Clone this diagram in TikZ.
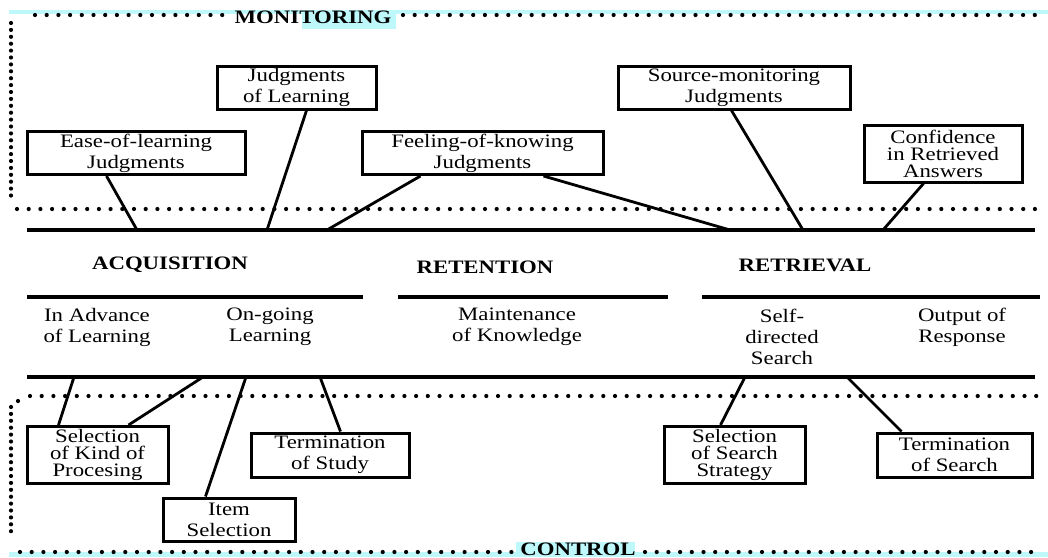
\documentclass[tikz,border=0pt]{standalone}
\usepackage{fontspec}
\setmainfont[FakeStretch=1.2]{Liberation Serif}
\usetikzlibrary{calc}
\definecolor{hl}{RGB}{190,248,250}
\begin{document}
\begin{tikzpicture}[x=1pt,y=-1pt,
  box/.style={draw, line width=3pt, inner sep=0pt, align=center, font=\fontsize{19}{21}\selectfont},
  tbox/.style={box, font=\fontsize{19}{17}\selectfont},
  lbl/.style={inner sep=0pt, align=center, font=\fontsize{19}{21}\selectfont},
  head/.style={inner sep=0pt, font=\fontsize{19}{21}\selectfont\bfseries},
  mainline/.style={line width=3.2pt},
  conn/.style={line width=2.8pt},
  dots/.style={line width=4.2pt, line cap=round, dash pattern=on 0pt off 11.7pt},
  vdots/.style={line width=4.2pt, line cap=round, dash pattern=on 0pt off 6.9pt}]
\useasboundingbox (0,0) rectangle (1048,557);
% highlight artifacts
\fill[hl] (9,10) rectangle (1048,13.5);
\fill[hl] (302,12) rectangle (396,29);
\fill[hl] (9,552) rectangle (1048,557);
\fill[hl] (516,542) rectangle (635,557);
% monitoring dotted frame
\node[head] (mon) at (313,17) {MONITORING};
\draw[dots] (35,15) -- (228,15);
\draw[dots] (403,15) -- (1042,15);
\draw[vdots] (11,23) -- (11,202);
\draw[dots] (17,209) -- (1042,209);
% control dotted frame
\node[head] (con) at (578,549) {CONTROL};
\draw[dots] (30,396) -- (1042,396);
\draw[vdots] (11,407) -- (11,535);
\draw[dots] (18,401) -- (18,401.1);
\draw[dots] (20,552) -- (512,552);
\draw[dots] (645,552) -- (1042,552);
% main lines
\coordinate (tl) at (27,230);
\coordinate (tr) at (1035,230);
\draw[mainline] (tl) -- (tr);
\coordinate (bl) at (27,377);
\coordinate (br) at (1035,377);
\draw[mainline] (bl) -- (br);
\coordinate (m1a) at (27,297); \coordinate (m1b) at (363,297);
\coordinate (m2a) at (398,297); \coordinate (m2b) at (668,297);
\coordinate (m3a) at (702,297); \coordinate (m3b) at (1040,297);
\draw[mainline] (m1a) -- (m1b);
\draw[mainline] (m2a) -- (m2b);
\draw[mainline] (m3a) -- (m3b);
% headings and labels
\node[head] (acq) at (170,265) {ACQUISITION};
\node[head] (ret) at (485,267) {RETENTION};
\node[head] (rtr) at (805,265) {RETRIEVAL};
\node[lbl] (adv) at (97,327) {In Advance\\of Learning};
\node[lbl] (ong) at (270,327) {On-going\\Learning};
\node[lbl] (mnt) at (517,327) {Maintenance\\of Knowledge};
\node[lbl] (sds) at (782,337) {Self-\\directed\\Search};
\node[lbl] (oor) at (962,327) {Output of\\Response};
% monitoring boxes
\node[box, minimum width=218, minimum height=43] (elj) at (136,153) {Ease-of-learning\\Judgments};
\node[box, minimum width=159, minimum height=43] (jol) at (296.5,87.5) {Judgments\\of Learning};
\node[box, minimum width=241, minimum height=43] (fok) at (482.5,153) {Feeling-of-knowing\\Judgments};
\node[box, minimum width=232, minimum height=43] (smj) at (734,87.5) {Source-monitoring\\Judgments};
\node[tbox, minimum width=158, minimum height=57] (cra) at (943,153.5) {Confidence\\in Retrieved\\Answers};
% control boxes
\node[tbox, minimum width=141, minimum height=57] (skp) at (97.5,455) {Selection\\of Kind of\\Procesing};
\node[box, minimum width=132, minimum height=43] (its) at (229,519.5) {Item\\Selection};
\node[box, minimum width=158, minimum height=44] (tst) at (330,455) {Termination\\of Study};
\node[tbox, minimum width=141, minimum height=57] (sss) at (734.5,455) {Selection\\of Search\\Strategy};
\node[box, minimum width=155, minimum height=44] (tse) at (954.5,455) {Termination\\of Search};
% attachment points on main lines
\coordinate (t1) at (137,230); \coordinate (t2) at (267,230);
\coordinate (t3) at (327,230); \coordinate (t4) at (730,230);
\coordinate (t5) at (803,230); \coordinate (t6) at (883,230);
\coordinate (b1) at (74,377); \coordinate (b2) at (203,377);
\coordinate (b3) at (246,377); \coordinate (b4) at (320,377);
\coordinate (b5) at (745,377); \coordinate (b6) at (847,377);
% connectors
\draw[conn] ($(elj.south west)+(81,0)$) -- (t1);
\draw[conn] ($(jol.south west)+(91,0)$) -- (t2);
\draw[conn] ($(fok.south west)+(60,0)$) -- (t3);
\draw[conn] ($(fok.south west)+(183,0)$) -- (t4);
\draw[conn] ($(smj.south west)+(115,0)$) -- (t5);
\draw[conn] ($(cra.south west)+(61,0)$) -- (t6);
\draw[conn] ($(skp.north west)+(33,0)$) -- (b1);
\draw[conn] ($(skp.north west)+(103,0)$) -- (b2);
\draw[conn] ($(its.north west)+(44,0)$) -- (b3);
\draw[conn] ($(tst.north west)+(91,0)$) -- (b4);
\draw[conn] ($(sss.north west)+(58,0)$) -- (b5);
\draw[conn] ($(tse.north west)+(26,0)$) -- (b6);
\end{tikzpicture}
\end{document}
